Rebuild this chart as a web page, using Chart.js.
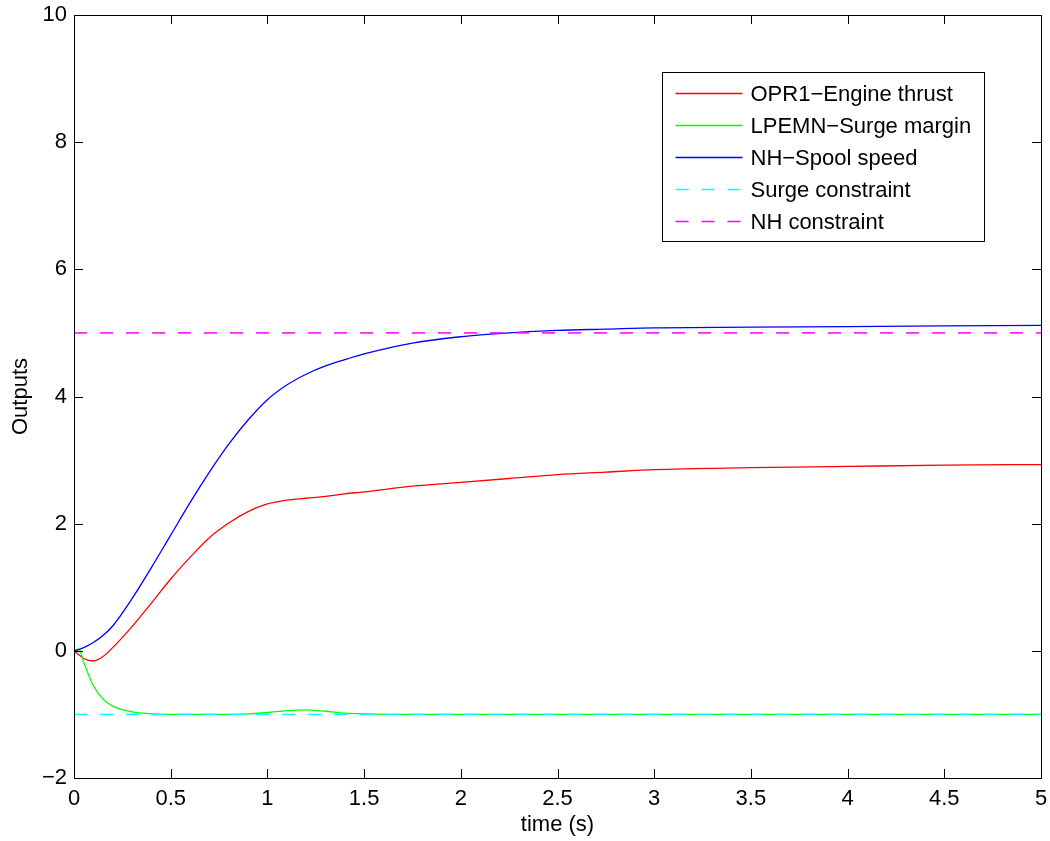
<!DOCTYPE html>
<html>
<head>
<meta charset="utf-8">
<title>Outputs</title>
<script src="https://cdn.jsdelivr.net/npm/chart.js@4/dist/chart.umd.min.js"></script>
<style>
  html, body { margin: 0; padding: 0; background: #fff; }
  #wrap { width: 1050px; height: 841px; }
</style>
</head>
<body>
<div id="wrap"><canvas id="outputs-chart" width="1050" height="841"></canvas></div>
<script>
// values
const time = [0, 0.025, 0.05, 0.1, 0.15, 0.2, 0.3, 0.4, 0.5, 0.6, 0.7, 0.8, 0.9, 1.0, 1.1, 1.2, 1.3, 1.4, 1.5, 1.75, 2.0, 2.25, 2.5, 2.75, 3.0, 3.5, 4.0, 4.5, 5.0];
const engineThrust = [0, -0.06, -0.12, -0.16, -0.09, 0.05, 0.38, 0.75, 1.13, 1.47, 1.78, 2.01, 2.19, 2.31, 2.37, 2.40, 2.43, 2.47, 2.50, 2.59, 2.65, 2.71, 2.77, 2.81, 2.85, 2.88, 2.90, 2.92, 2.93];
const surgeMargin = [0, 0.03, -0.18, -0.55, -0.76, -0.87, -0.96, -0.99, -1.0, -1.0, -1.0, -1.0, -0.99, -0.97, -0.94, -0.93, -0.95, -0.98, -0.99, -1.0, -1.0, -1.0, -1.0, -1.0, -1.0, -1.0, -1.0, -1.0, -1.0];
const spoolSpeed = [0, 0.02, 0.05, 0.13, 0.24, 0.39, 0.82, 1.31, 1.82, 2.33, 2.81, 3.25, 3.63, 3.95, 4.18, 4.35, 4.48, 4.58, 4.67, 4.84, 4.94, 5.0, 5.04, 5.06, 5.08, 5.09, 5.10, 5.11, 5.12];
const constraintTime = [0, 5];
const surgeLimit = [-1, -1];
const nhLimit = [5, 5];

const seriesLabels = ['OPR1\u2212Engine thrust', 'LPEMN\u2212Surge margin', 'NH\u2212Spool speed', 'Surge constraint', 'NH constraint'];
const xTicks = { min: 0, max: 5, step: 0.5 };
const yTicks = { min: -2, max: 10, step: 2 };

const FONT = '"Liberation Sans", Arial, Helvetica, sans-serif';
Chart.defaults.font.family = FONT;
Chart.defaults.font.size = 22;
Chart.defaults.color = '#000';

function toPoints(xs, ys) {
  return xs.map((x, i) => ({ x: x, y: ys[i] }));
}

function minusSign(v) {
  return String(v).replace('-', '\u2212');
}

// matlab style box with inward ticks on all four sides
const boxPlugin = {
  id: 'matlabBox',
  afterDatasetsDraw(chart) {
    const { ctx, chartArea: a, scales } = chart;
    const len = 9;
    ctx.save();
    ctx.strokeStyle = '#000';
    ctx.lineWidth = 1;
    ctx.beginPath();
    scales.x.ticks.forEach((t) => {
      const px = Math.round(scales.x.getPixelForValue(t.value)) + 0.5;
      ctx.moveTo(px, a.bottom); ctx.lineTo(px, a.bottom - len);
      ctx.moveTo(px, a.top); ctx.lineTo(px, a.top + len);
    });
    scales.y.ticks.forEach((t) => {
      const py = Math.round(scales.y.getPixelForValue(t.value)) + 0.5;
      ctx.moveTo(a.left, py); ctx.lineTo(a.left + len, py);
      ctx.moveTo(a.right, py); ctx.lineTo(a.right - len, py);
    });
    ctx.stroke();
    ctx.strokeRect(Math.round(a.left) + 0.5, Math.round(a.top) + 0.5, Math.round(a.right - a.left), Math.round(a.bottom - a.top));
    ctx.restore();
  }
};

// legend box drawn inside the plot, upper right
const legendPlugin = {
  id: 'insideLegend',
  afterDraw(chart) {
    const { ctx, chartArea: a } = chart;
    const boxW = 322, boxH = 169;
    const x0 = Math.round(a.right - 57 - boxW) + 0.5;
    const y0 = Math.round(a.top + 57) + 0.5;
    ctx.save();
    ctx.fillStyle = '#fff';
    ctx.fillRect(x0, y0, boxW, boxH);
    ctx.strokeStyle = '#000';
    ctx.lineWidth = 1;
    ctx.strokeRect(x0, y0, boxW, boxH);
    ctx.font = '22px ' + FONT;
    ctx.textBaseline = 'middle';
    ctx.fillStyle = '#000';
    chart.data.datasets.forEach((ds, i) => {
      const cy = y0 + 21 + i * 32;
      ctx.beginPath();
      ctx.strokeStyle = ds.borderColor;
      ctx.lineWidth = ds.borderWidth;
      ctx.setLineDash(ds.borderDash || []);
      ctx.moveTo(x0 + 13, cy);
      ctx.lineTo(x0 + 80, cy);
      ctx.stroke();
      ctx.setLineDash([]);
      ctx.fillText(ds.label, x0 + 88, cy + 1);
    });
    ctx.restore();
  }
};

const ctx = document.getElementById('outputs-chart').getContext('2d');
const chart = new Chart(ctx, {
  type: 'line',
  data: {
    datasets: [
      { label: seriesLabels[0], data: toPoints(time, engineThrust), borderColor: '#ff0000', borderWidth: 1.3, order: 5, cubicInterpolationMode: 'monotone' },
      { label: seriesLabels[1], data: toPoints(time, surgeMargin), borderColor: '#00ff00', borderWidth: 1.3, order: 4, cubicInterpolationMode: 'monotone' },
      { label: seriesLabels[2], data: toPoints(time, spoolSpeed), borderColor: '#0000ff', borderWidth: 1.3, order: 3, cubicInterpolationMode: 'monotone' },
      { label: seriesLabels[3], data: toPoints(constraintTime, surgeLimit), borderColor: '#00ffff', borderWidth: 1.5, borderDash: [13, 13], order: 2 },
      { label: seriesLabels[4], data: toPoints(constraintTime, nhLimit), borderColor: '#ff00ff', borderWidth: 1.5, borderDash: [13, 13], order: 1 },
    ],
  },
  options: {
    responsive: false,
    animation: false,
    elements: { point: { radius: 0 }, line: { fill: false } },
    layout: { padding: { left: 0, right: 9, top: 15, bottom: 0 } },
    plugins: { legend: { display: false }, tooltip: { enabled: false } },
    scales: {
      x: {
        type: 'linear',
        min: xTicks.min,
        max: xTicks.max,
        grid: { display: false, drawTicks: false },
        border: { display: false },
        ticks: { stepSize: xTicks.step, padding: 8, maxRotation: 0, autoSkip: false, callback: minusSign },
        title: { display: true, text: 'time (s)', padding: { top: 0, bottom: 3 } },
        afterFit(scale) {
          scale.height = 63;
          scale.paddingLeft = 0;
          scale.paddingRight = 0;
        },
      },
      y: {
        type: 'linear',
        min: yTicks.min,
        max: yTicks.max,
        grid: { display: false, drawTicks: false },
        border: { display: false },
        ticks: { stepSize: yTicks.step, padding: 7, autoSkip: false, callback: minusSign },
        title: { display: true, text: 'Outputs', padding: { top: 8, bottom: 0 } },
        afterFit(scale) {
          scale.width = 74;
          scale.paddingTop = 0;
          scale.paddingBottom = 0;
        },
      },
    },
  },
  plugins: [boxPlugin, legendPlugin],
});
</script>
</body>
</html>
